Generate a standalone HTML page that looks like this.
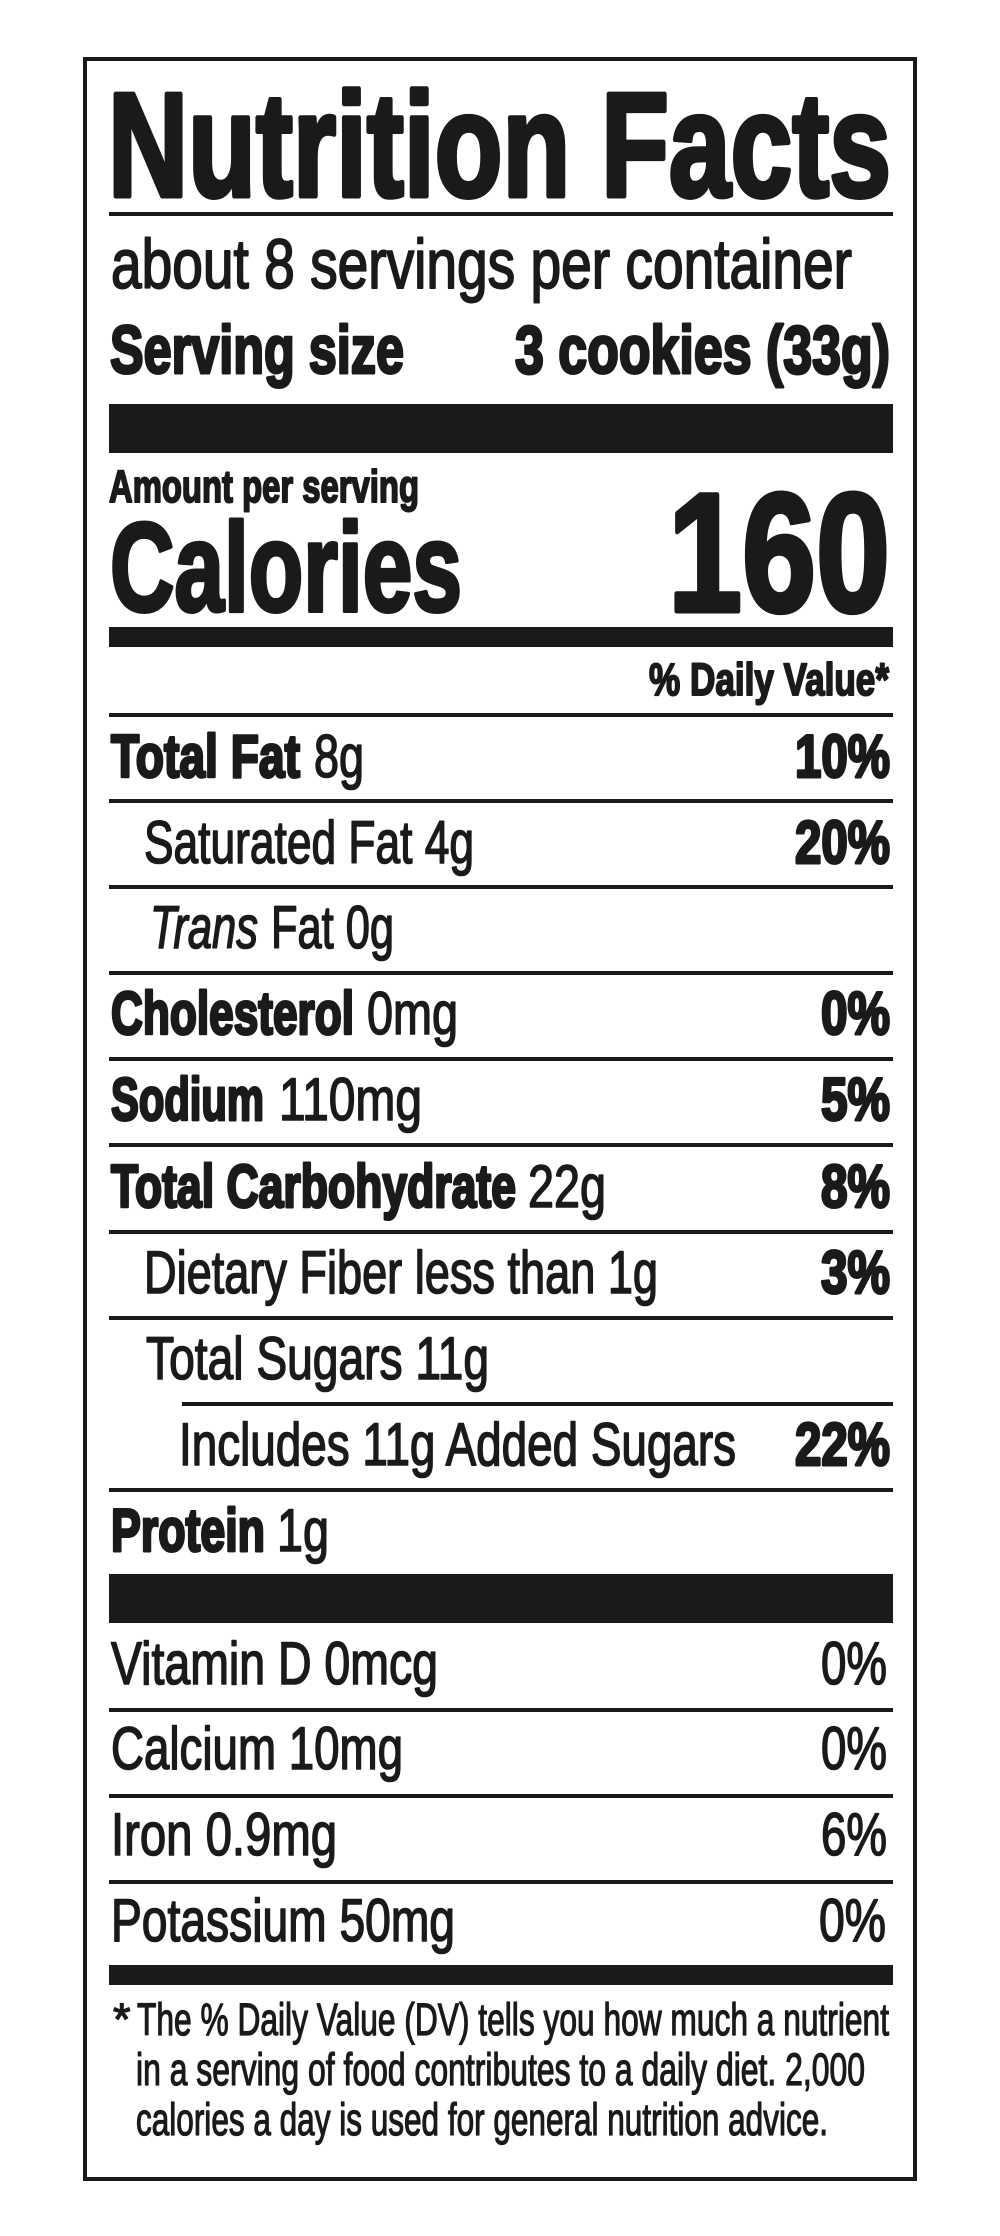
<!DOCTYPE html>
<html>
<head>
<meta charset="utf-8">
<style>
  html,body{margin:0;padding:0;background:#fff;}
  svg{display:block;}
  text{font-family:"Liberation Sans", Arial, sans-serif; fill:#1a1a1a; stroke:#1a1a1a; stroke-linejoin:round;}
  .b{font-weight:700; stroke-width:3;}
  .r{font-weight:400; stroke-width:1.6;}
  .i{font-weight:400; font-style:italic; stroke-width:1.6;}
</style>
</head>
<body>
<svg width="1000" height="2236" viewBox="0 0 1000 2236" xmlns="http://www.w3.org/2000/svg">
  <rect x="0" y="0" width="1000" height="2236" fill="#fff"/>
  <!-- outer border -->
  <rect x="85" y="59" width="830" height="2120" fill="none" stroke="#1a1a1a" stroke-width="4"/>

  <!-- Title -->
  <text class="b" x="108" y="196" font-size="148" style="stroke-width:5" textLength="783" lengthAdjust="spacingAndGlyphs">Nutrition Facts</text>
  <rect x="109" y="212" width="784" height="4" fill="#1a1a1a"/>

  <text class="r" x="111" y="288" font-size="70" style="stroke-width:1.9" textLength="741" lengthAdjust="spacingAndGlyphs">about 8 servings per container</text>
  <text class="b" x="110" y="373" font-size="68" textLength="294" lengthAdjust="spacingAndGlyphs">Serving size</text>
  <text class="b" x="515" y="373" font-size="68" textLength="375" lengthAdjust="spacingAndGlyphs">3 cookies (33g)</text>

  <rect x="109" y="404" width="784" height="49" fill="#1a1a1a"/>

  <text class="b" x="109" y="502" font-size="45" style="stroke-width:2" textLength="310" lengthAdjust="spacingAndGlyphs">Amount per serving</text>
  <text class="b" x="110" y="611" font-size="126" style="stroke-width:4" textLength="352" lengthAdjust="spacingAndGlyphs">Calories</text>
  <text class="b" x="668" y="611" font-size="169" style="stroke-width:5" textLength="222" lengthAdjust="spacingAndGlyphs">160</text>

  <rect x="109" y="627" width="784" height="20" fill="#1a1a1a"/>

  <text class="b" x="649" y="695" font-size="45" style="stroke-width:2" textLength="240" lengthAdjust="spacingAndGlyphs">% Daily Value*</text>

  <!-- row lines -->
  <rect x="109" y="713" width="784" height="4" fill="#1a1a1a"/>
  <rect x="109" y="799" width="784" height="4" fill="#1a1a1a"/>
  <rect x="109" y="885" width="784" height="4" fill="#1a1a1a"/>
  <rect x="109" y="971" width="784" height="4" fill="#1a1a1a"/>
  <rect x="109" y="1057" width="784" height="4" fill="#1a1a1a"/>
  <rect x="109" y="1143" width="784" height="4" fill="#1a1a1a"/>
  <rect x="109" y="1230" width="784" height="4" fill="#1a1a1a"/>
  <rect x="109" y="1316" width="784" height="4" fill="#1a1a1a"/>
  <rect x="182" y="1402" width="711" height="4" fill="#1a1a1a"/>
  <rect x="109" y="1488" width="784" height="4" fill="#1a1a1a"/>

  <!-- Total Fat -->
  <text class="b" x="111" y="777" font-size="60" textLength="189" lengthAdjust="spacingAndGlyphs">Total Fat</text>
  <text class="r" x="314" y="777" font-size="60" textLength="50" lengthAdjust="spacingAndGlyphs">8g</text>
  <text class="b" x="795" y="777" font-size="60" textLength="95" lengthAdjust="spacingAndGlyphs">10%</text>

  <!-- Saturated Fat -->
  <text class="r" x="144" y="863" font-size="60" textLength="330" lengthAdjust="spacingAndGlyphs">Saturated Fat 4g</text>
  <text class="b" x="795" y="863" font-size="60" textLength="95" lengthAdjust="spacingAndGlyphs">20%</text>

  <!-- Trans Fat -->
  <text class="i" x="150" y="948" font-size="60" textLength="108" lengthAdjust="spacingAndGlyphs">Trans</text>
  <text class="r" x="271" y="948" font-size="60" textLength="123" lengthAdjust="spacingAndGlyphs">Fat 0g</text>

  <!-- Cholesterol -->
  <text class="b" x="111" y="1034" font-size="60" textLength="243" lengthAdjust="spacingAndGlyphs">Cholesterol</text>
  <text class="r" x="367" y="1034" font-size="60" textLength="91" lengthAdjust="spacingAndGlyphs">0mg</text>
  <text class="b" x="821" y="1034" font-size="60" textLength="69" lengthAdjust="spacingAndGlyphs">0%</text>

  <!-- Sodium -->
  <text class="b" x="111" y="1120" font-size="60" textLength="153" lengthAdjust="spacingAndGlyphs">Sodium</text>
  <text class="r" x="279" y="1120" font-size="60" textLength="143" lengthAdjust="spacingAndGlyphs">110mg</text>
  <text class="b" x="821" y="1120" font-size="60" textLength="69" lengthAdjust="spacingAndGlyphs">5%</text>

  <!-- Total Carbohydrate -->
  <text class="b" x="111" y="1207" font-size="60" textLength="405" lengthAdjust="spacingAndGlyphs">Total Carbohydrate</text>
  <text class="r" x="528" y="1207" font-size="60" textLength="78" lengthAdjust="spacingAndGlyphs">22g</text>
  <text class="b" x="821" y="1207" font-size="60" textLength="69" lengthAdjust="spacingAndGlyphs">8%</text>

  <!-- Dietary Fiber -->
  <text class="r" x="144" y="1293" font-size="60" textLength="514" lengthAdjust="spacingAndGlyphs">Dietary Fiber less than 1g</text>
  <text class="b" x="821" y="1293" font-size="60" textLength="69" lengthAdjust="spacingAndGlyphs">3%</text>

  <!-- Total Sugars -->
  <text class="r" x="146" y="1379" font-size="60" textLength="343" lengthAdjust="spacingAndGlyphs">Total Sugars 11g</text>

  <!-- Added Sugars -->
  <text class="r" x="179" y="1465" font-size="60" textLength="557" lengthAdjust="spacingAndGlyphs">Includes 11g Added Sugars</text>
  <text class="b" x="795" y="1465" font-size="60" textLength="95" lengthAdjust="spacingAndGlyphs">22%</text>

  <!-- Protein -->
  <text class="b" x="111" y="1551" font-size="60" textLength="154" lengthAdjust="spacingAndGlyphs">Protein</text>
  <text class="r" x="277" y="1551" font-size="60" textLength="52" lengthAdjust="spacingAndGlyphs">1g</text>

  <rect x="109" y="1574" width="784" height="49" fill="#1a1a1a"/>

  <!-- Vitamins -->
  <text class="r" x="111" y="1684" font-size="60" textLength="327" lengthAdjust="spacingAndGlyphs">Vitamin D 0mcg</text>
  <text class="r" x="821" y="1684" font-size="60" textLength="66" lengthAdjust="spacingAndGlyphs">0%</text>
  <rect x="109" y="1708" width="784" height="4" fill="#1a1a1a"/>

  <text class="r" x="111" y="1769" font-size="60" textLength="292" lengthAdjust="spacingAndGlyphs">Calcium 10mg</text>
  <text class="r" x="821" y="1769" font-size="60" textLength="66" lengthAdjust="spacingAndGlyphs">0%</text>
  <rect x="109" y="1794" width="784" height="4" fill="#1a1a1a"/>

  <text class="r" x="111" y="1855" font-size="60" textLength="226" lengthAdjust="spacingAndGlyphs">Iron 0.9mg</text>
  <text class="r" x="821" y="1855" font-size="60" textLength="66" lengthAdjust="spacingAndGlyphs">6%</text>
  <rect x="109" y="1880" width="784" height="4" fill="#1a1a1a"/>

  <text class="r" x="111" y="1941" font-size="60" textLength="344" lengthAdjust="spacingAndGlyphs">Potassium 50mg</text>
  <text class="r" x="819" y="1941" font-size="60" textLength="67" lengthAdjust="spacingAndGlyphs">0%</text>

  <rect x="109" y="1965" width="784" height="20" fill="#1a1a1a"/>

  <!-- Footnote -->
  <text class="r" x="113" y="2035" font-size="45" style="stroke-width:1.3">*</text>
  <text class="r" x="137" y="2035" font-size="45" style="stroke-width:1.3" textLength="752" lengthAdjust="spacingAndGlyphs">The % Daily Value (DV) tells you how much a nutrient</text>
  <text class="r" x="136" y="2085" font-size="45" style="stroke-width:1.3" textLength="729" lengthAdjust="spacingAndGlyphs">in a serving of food contributes to a daily diet. 2,000</text>
  <text class="r" x="136" y="2135" font-size="45" style="stroke-width:1.3" textLength="692" lengthAdjust="spacingAndGlyphs">calories a day is used for general nutrition advice.</text>
</svg>
</body>
</html>
